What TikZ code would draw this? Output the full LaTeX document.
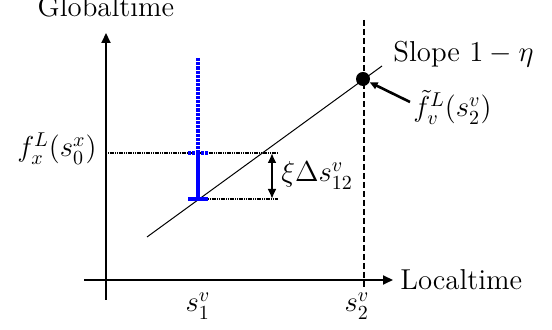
\documentclass[tikz,border=0pt]{standalone}
\usetikzlibrary{arrows.meta}
\begin{document}
\begin{tikzpicture}[x=0.5pt,y=-0.5pt,font=\fontsize{14.4}{17}\selectfont,
  axis/.style={line width=1pt,-{Triangle[length=5pt,width=4.5pt]}},
  guide/.style={line width=0.8pt,dash pattern=on 0.6pt off 0.3pt},
  bluesolid/.style={blue,line width=1.6pt},
  bluedot/.style={blue,line width=1.6pt,dash pattern=on 1.6pt off 0.5pt},
  dbl/.style={line width=1.1pt,{Latex[length=5pt,width=4.5pt]}-{Latex[length=5pt,width=4.5pt]}}]
\useasboundingbox (0,0) rectangle (552,330);
% axes
\coordinate (ybot) at (106,300);
\coordinate (ytop) at (106,33);
\coordinate (xleft) at (84,280);
\coordinate (xright) at (393,280);
\draw[axis] (ybot) -- (ytop);
\draw[axis] (xleft) -- (xright);
\node[anchor=base west,inner sep=0pt] (lt) at (400,290) {Localtime};
\node[anchor=base,inner sep=0pt] (gt) at (106,17) {Globaltime};
% dashed vertical at s2
\coordinate (vdtop) at (364,20);
\coordinate (vdbot) at (364,290);
\draw[line width=0.7pt,dash pattern=on 3pt off 1.5pt] (vdtop) -- (vdbot);
\node[anchor=base,inner sep=0pt] (s1) at (198,312) {$s_1^v$};
\node[anchor=base,inner sep=0pt] (s2) at (357,312) {$s_2^v$};
% diagonal line and dot
\coordinate (d1) at (147,237);
\coordinate (d2) at (382,66);
\draw[line width=0.5pt] (d1) -- (d2);
\node[circle,fill=black,inner sep=0pt,minimum size=7pt] (dot) at (363,79) {};
\node[anchor=base west,inner sep=0pt] (slope) at (393,62) {Slope $1-\eta$};
\node[anchor=base west,inner sep=0pt] (ft) at (413,117) {$\tilde{f}_v^L(s_2^v)$};
\coordinate (arrS) at (410,102);
\draw[line width=1.3pt,-{Triangle[length=4pt,width=3.5pt]}] (arrS) -- (dot);
% guide lines
\coordinate (g1a) at (106,153);
\coordinate (g1b) at (278,153);
\coordinate (g2a) at (208,199);
\coordinate (g2b) at (278,199);
\draw[guide] (g1a) -- (g1b);
\draw[guide] (g2a) -- (g2b);
\node[anchor=base east,inner sep=0pt] (fx) at (97,157) {$f_x^L(s_0^x)$};
% blue
\coordinate (btop) at (198,58);
\coordinate (bmid) at (198,153);
\coordinate (bbot) at (198,199);
\coordinate (tm1) at (188,153);
\coordinate (tm2) at (208,153);
\coordinate (tb1) at (188,199);
\coordinate (tb2) at (208,199);
\draw[bluedot] (btop) -- (bmid);
\draw[bluedot] (tm1) -- (tm2);
\draw[bluesolid] (bmid) -- (bbot);
\draw[bluesolid] (tb1) -- (tb2);
% double arrow
\coordinate (da1) at (272,153);
\coordinate (da2) at (272,199);
\draw[dbl] (da1) -- (da2);
\node[anchor=base west,inner sep=0pt] (xi) at (281,182) {$\xi\Delta s_{12}^v$};
\end{tikzpicture}
\end{document}
